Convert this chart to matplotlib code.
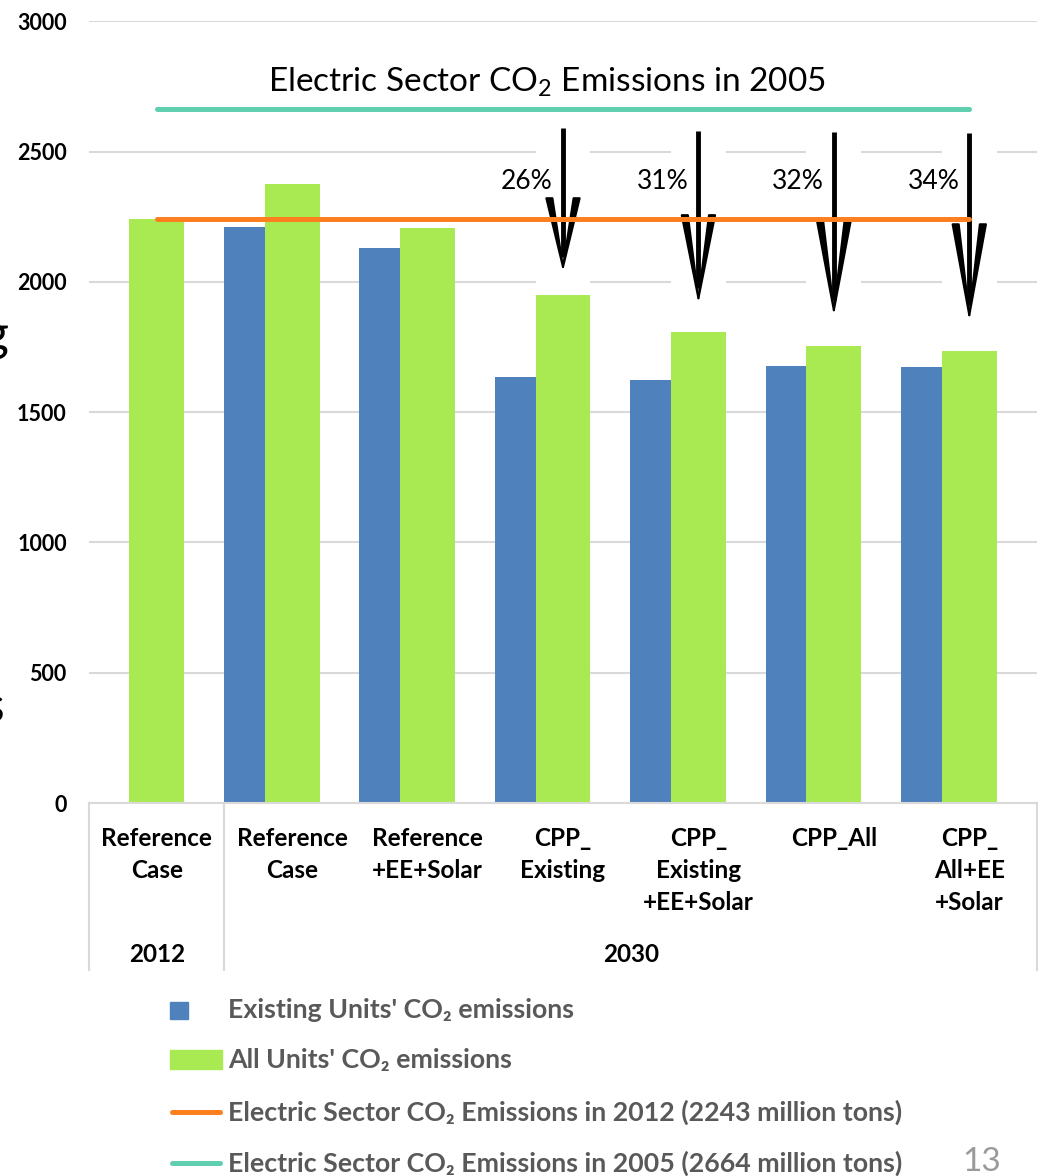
import numpy as np
import matplotlib
matplotlib.use("Agg")
import matplotlib.pyplot as plt
from matplotlib.patches import Rectangle
from matplotlib.lines import Line2D
import matplotlib.transforms as mtransforms

# ---- data (million tons CO2) ----
scenarios = ["Reference\nCase", "Reference\nCase", "Reference\n+EE+Solar",
             "CPP_\nExisting", "CPP_\nExisting\n+EE+Solar", "CPP_All",
             "CPP_\nAll+EE\n+Solar"]
years = ["2012", "2030"]
existing_units = [np.nan, 2209, 2129, 1633, 1625, 1679, 1675]
all_units = [2243, 2375, 2206, 1949, 1807, 1753, 1734]
emis_2012 = 2243
emis_2005 = 2664
reductions = ["26%", "31%", "32%", "34%"]

BLUE = "#4F81BD"
GREEN = "#A9EA52"
ORANGE = "#FD7F20"
TEAL = "#5FCFB0"
GRID = "#D9D9D9"
LEG = "#595959"

plt.rcParams["font.family"] = ["Lato", "DejaVu Sans"]
plt.rcParams["mathtext.fontset"] = "custom"
plt.rcParams["mathtext.rm"] = "Lato"

W, H = 1039, 1176
fig = plt.figure(figsize=(W / 100, H / 100), dpi=100)
ax = fig.add_axes([89 / W, 1 - 803 / H, (1037 - 89) / W, (803 - 21.3) / H])

x = np.arange(len(scenarios))
ax.set_xlim(-0.5, len(scenarios) - 0.5)
ax.set_ylim(0, 3000)

# gridlines
ax.set_yticks(np.arange(0, 3001, 500))
ax.yaxis.grid(True, color=GRID, lw=1.5, zorder=0.5)
ax.set_axisbelow(True)
ax.tick_params(axis="y", length=0, pad=16, labelsize=15.5)
for t in ax.get_yticklabels():
    t.set_fontweight("bold")
ax.set_xticks([])
for s in ["top", "right", "left"]:
    ax.spines[s].set_visible(False)
ax.spines["bottom"].set_color(GRID)
ax.spines["bottom"].set_linewidth(1.5)

# bars: green centred on the category, blue sitting just left of it
gw = 0.406
bw = 0.30
ax.bar(x - gw / 2, existing_units, width=-bw, align="edge", color=BLUE, zorder=2)
ax.bar(x, all_units, width=gw, color=GREEN, zorder=2)

# white backing behind the reduction arrows
arrow_cats = [3, 4, 5, 6]
ax.bar(np.array(arrow_cats), [2620] * 4, width=gw, color="white", zorder=1)

# reference levels
ax.plot([0, 6], [emis_2005, emis_2005], color=TEAL, lw=3.6,
        solid_capstyle="round", zorder=5)
ax.plot([0, 6], [emis_2012, emis_2012], color=ORANGE, lw=3.6,
        solid_capstyle="round", zorder=5)
ax.text(2.88, 2765, r"Electric Sector CO$_2$ Emissions in 2005",
        ha="center", va="center", fontsize=24)

# reduction arrows
arrow_top = [2590, 2578, 2574, 2570]
arrow_tip = [2057, 1937, 1891, 1872]
barb_top = [2321, 2256, 2230, 2221]
half = 0.123
for c, top, tip, bt, lab in zip(arrow_cats, arrow_top, arrow_tip, barb_top, reductions):
    ax.plot([c, c], [top, tip + 40], color="black", lw=3.5, solid_capstyle="butt", zorder=4)
    for side in (-1, 1):
        ax.fill([c + side * half, c + side * (half - 0.045), c],
                [bt, bt, tip], color="black", lw=1.5, ec="black",
                joinstyle="round", zorder=4)
    ax.text(c - 0.265, 2384, lab, ha="center", va="center", fontsize=19)

# category axis below the plot
tr = mtransforms.blended_transform_factory(ax.transData, ax.transAxes)
for xv in [-0.5, 0.5, 6.5]:
    ax.add_line(Line2D([xv, xv], [0, -0.214], transform=tr, color=GRID,
                       lw=1.5, clip_on=False))
for i, s in enumerate(scenarios):
    ax.text(i, -0.031, s, transform=tr, ha="center", va="top",
            fontsize=17.5, fontweight="bold", linespacing=1.47)
yr_y = -(954 - 803) / (803 - 21.3)
ax.text(0, yr_y, years[0], transform=tr, ha="center", va="center",
        fontsize=17.5, fontweight="bold")
ax.text(3.5, yr_y, years[1], transform=tr, ha="center", va="center",
        fontsize=17.5, fontweight="bold")

# legend, drawn by hand under the chart
def fx(px):
    return px / W

def fy(py):
    return 1 - py / H

fig.add_artist(Rectangle((fx(170), fy(1019)), 18 / W, 17 / H,
                         transform=fig.transFigure, color=BLUE))
fig.add_artist(Rectangle((fx(170), fy(1069)), 52 / W, 19 / H,
                         transform=fig.transFigure, color=GREEN))
fig.add_artist(Line2D([fx(172), fx(220)], [fy(1112), fy(1112)],
                      transform=fig.transFigure, color=ORANGE, lw=3.6,
                      solid_capstyle="round"))
fig.add_artist(Line2D([fx(172), fx(220)], [fy(1163), fy(1163)],
                      transform=fig.transFigure, color=TEAL, lw=3.6,
                      solid_capstyle="round"))
legend_labels = [
    "Existing Units' CO\u2082 emissions",
    "All Units' CO\u2082 emissions",
    "Electric Sector CO\u2082 Emissions in 2012 (2243 million tons)",
    "Electric Sector CO\u2082 Emissions in 2005 (2664 million tons)",
]
for lab, py in zip(legend_labels, [1010, 1060, 1112, 1163]):
    fig.text(fx(228), fy(py), lab, ha="left", va="center", fontsize=19.3,
             fontweight="bold", color=LEG)

fig.text(fx(1001), fy(1162), "13", ha="right", va="center", fontsize=24,
         fontweight="normal", color="#9A9A9A")

# slide text cut off at the left edge
fig.text(fx(9), fy(336), "g", ha="right", va="center", fontsize=36)
fig.text(fx(4), fy(708), "s", ha="right", va="center", fontsize=36)

fig.savefig("out.png", dpi=100)
